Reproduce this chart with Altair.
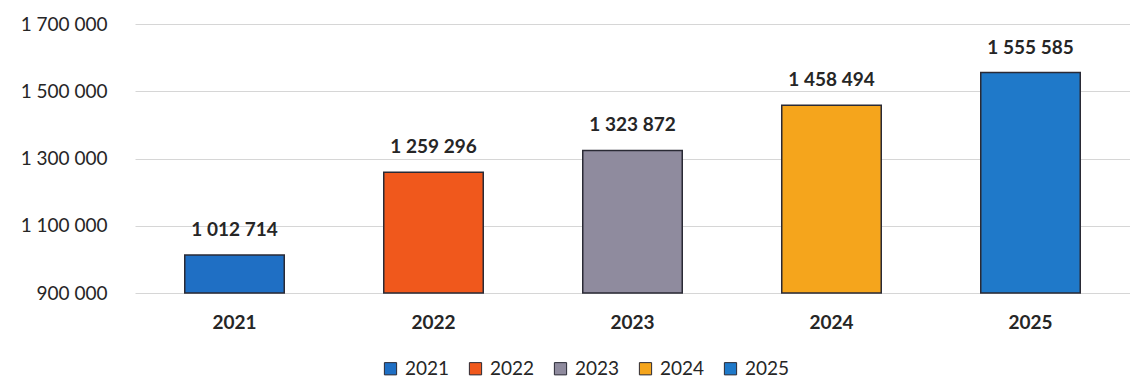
import altair as alt
import pandas as pd

# Annual totals
years = ["2021", "2022", "2023", "2024", "2025"]
totals = [1012714, 1259296, 1323872, 1458494, 1555585]
bar_colors = ["#1f6fc4", "#f0581c", "#8f8b9e", "#f5a51c", "#1f79c9"]

df = pd.DataFrame({"year": years, "total": totals})
df["label"] = [f"{v:,}".replace(",", " ") for v in totals]

FONT = "Lato"
TXT = "#262626"

x_enc = alt.X(
    "year:N",
    sort=years,
    scale=alt.Scale(paddingInner=0.5, paddingOuter=0.25),
    axis=alt.Axis(
        title=None, labelAngle=0, ticks=False, domain=False, grid=False,
        labelFontSize=19, labelFontWeight="bold", labelColor=TXT,
        labelFont=FONT, labelPadding=20,
    ),
)

y_enc = alt.Y(
    "total:Q",
    scale=alt.Scale(domain=[900000, 1700000], zero=False, clamp=True),
    axis=alt.Axis(
        title=None, values=[900000, 1100000, 1300000, 1500000, 1700000],
        labelExpr="replace(format(datum.value, ',d'), regexp(',', 'g'), ' ')",
        ticks=False, domain=False, grid=True, gridColor="#d6d6d6",
        gridWidth=1, labelFontSize=19, labelColor=TXT, labelFont=FONT,
        labelPadding=28,
    ),
)

bars = alt.Chart(df).mark_bar(stroke="#2a2a35", strokeWidth=1.5).encode(
    x=x_enc,
    y=y_enc,
    y2=alt.datum(900000),
    color=alt.Color(
        "year:N",
        sort=years,
        scale=alt.Scale(domain=years, range=bar_colors),
        legend=alt.Legend(
            title=None, orient="none", direction="horizontal",
            legendX=246, legendY=335, columns=5,
            symbolType="square", symbolSize=150, symbolStrokeWidth=1,
            symbolStrokeColor="#2a2a35", labelFontSize=19, labelColor=TXT,
            labelFont=FONT, labelOffset=5, columnPadding=16,
        ),
    ),
)

labels = alt.Chart(df).mark_text(
    baseline="bottom", dy=-15, fontSize=19, fontWeight="bold",
    font=FONT, color=TXT,
).encode(x=alt.X("year:N", sort=years), y="total:Q", text="label:N")

chart = (
    alt.layer(bars, labels)
    .properties(
        width=995, height=269,
        background="white",
        autosize=alt.AutoSizeParams(type="none"),
        padding={"left": 135, "top": 24, "right": 0, "bottom": 89},
    )
    .configure_view(stroke=None, strokeWidth=0)
    .configure_axis(domain=False)
)

chart.save("out.html", embed_options={"renderer": "svg", "actions": False})
